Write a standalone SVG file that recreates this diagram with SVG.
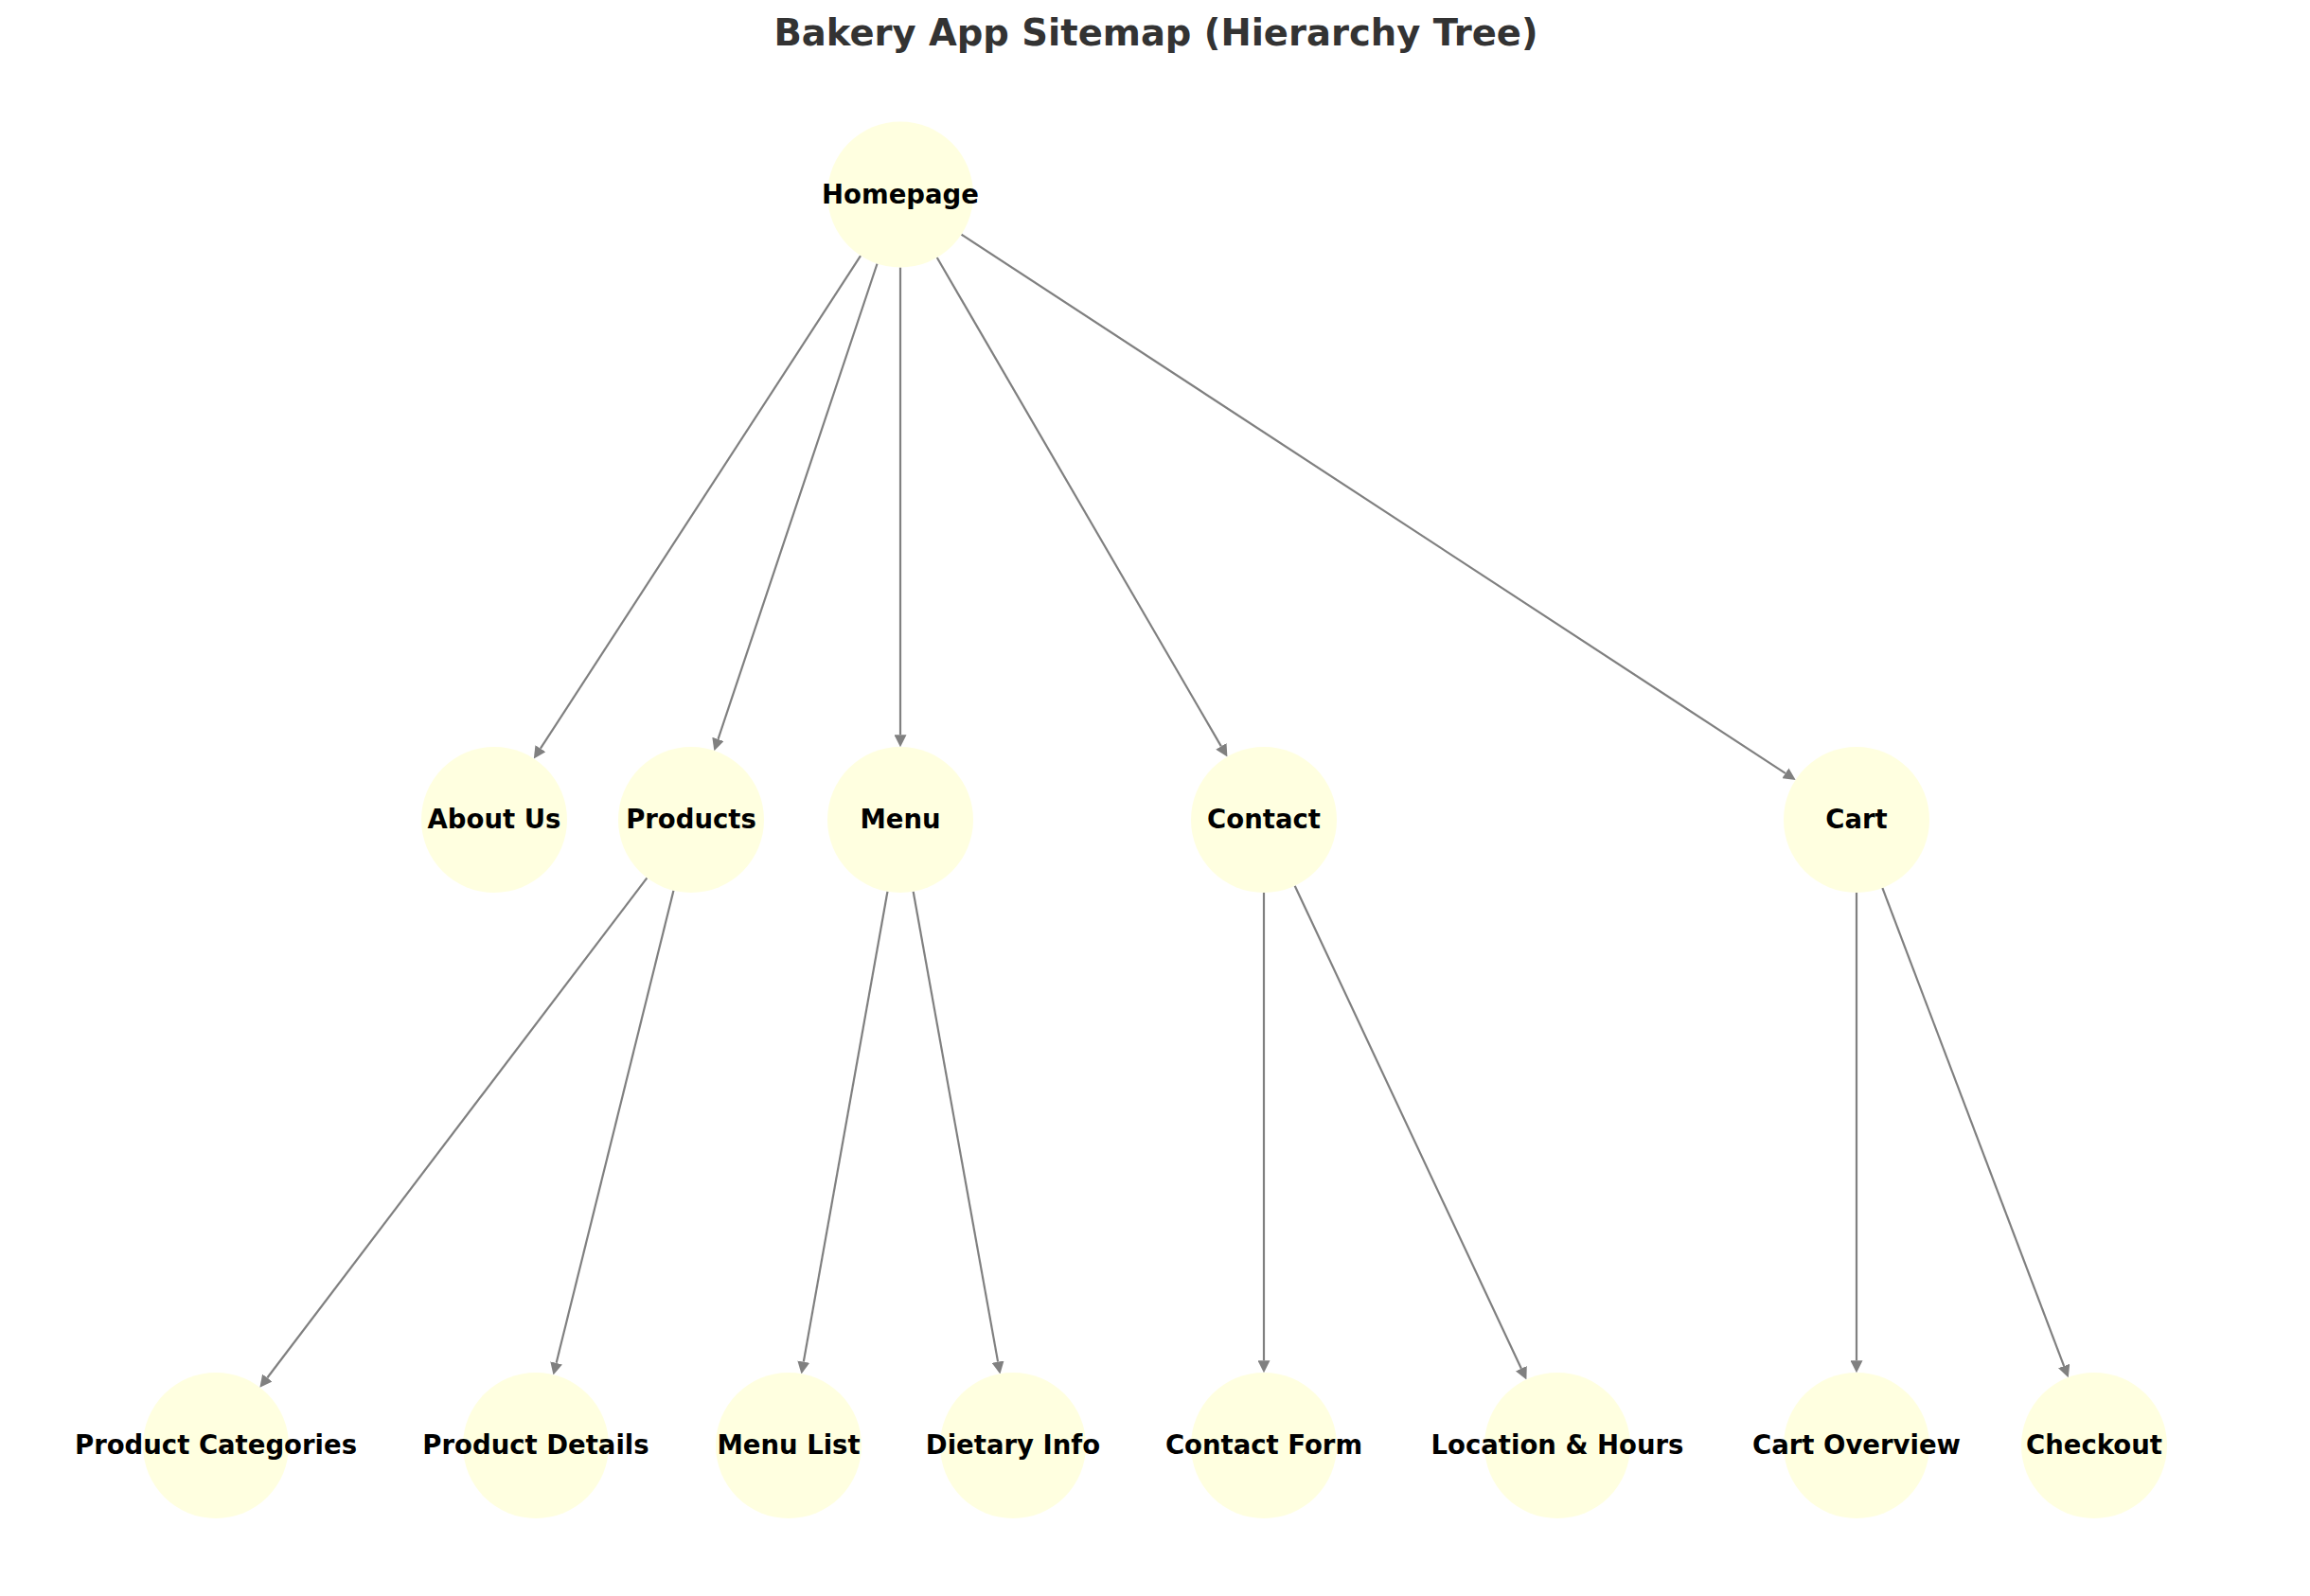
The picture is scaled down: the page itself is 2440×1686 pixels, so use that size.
<svg xmlns="http://www.w3.org/2000/svg" width="2440" height="1686" viewBox="0 0 2440 1686">
<defs>
<style>
.node circle { fill: #FFFFE0; }
.node text { font-family: "DejaVu Sans", "Liberation Sans", sans-serif; font-weight: bold; font-size: 27.5px; fill: #000000; text-anchor: middle; }
.title { font-family: "DejaVu Sans", "Liberation Sans", sans-serif; font-weight: bold; font-size: 38.5px; fill: #333333; text-anchor: middle; }
#edges line { stroke: #808080; stroke-width: 2.2; fill: none; marker-end: url(#arrow); }
</style>
<marker id="arrow" markerUnits="userSpaceOnUse" markerWidth="13" markerHeight="13" refX="0" refY="6.4" orient="auto" viewBox="0 0 12.8 12.8">
<path d="M0,0 L12.8,6.4 L0,12.8 Z" fill="#808080"/>
</marker>
</defs>
<rect width="2440" height="1686" fill="#FFFFFF"/>
<text class="title" x="1221" y="48">Bakery App Sitemap (Hierarchy Tree)</text>

<g id="edges">
<line x1="909.06" y1="270.07" x2="570.91" y2="790.70"/>
<line x1="926.57" y1="278.52" x2="758.49" y2="780.84"/>
<line x1="951" y1="282.5" x2="951" y2="776.2"/>
<line x1="989.70" y1="272.07" x2="1289.87" y2="788.36"/>
<line x1="1015.44" y1="247.64" x2="1885.85" y2="816.85"/>
<line x1="683.43" y1="927.32" x2="282.31" y2="1455.49"/>
<line x1="711.46" y1="940.74" x2="587.62" y2="1439.84"/>
<line x1="937.46" y1="941.81" x2="848.79" y2="1438.59"/>
<line x1="964.64" y1="941.78" x2="1054.09" y2="1438.62"/>
<line x1="1335" y1="943" x2="1335" y2="1437.2"/>
<line x1="1367.69" y1="935.71" x2="1606.88" y2="1445.70"/>
<line x1="1961" y1="943" x2="1961" y2="1437.2"/>
<line x1="1988.33" y1="937.98" x2="2180.13" y2="1443.05"/>
</g>

<g id="node-homepage" class="node"><circle cx="951" cy="205.5" r="77"/><text x="951" y="214.5">Homepage</text></g>
<g id="node-about-us" class="node"><circle cx="522" cy="866" r="77"/><text x="522" y="875">About Us</text></g>
<g id="node-products" class="node"><circle cx="730" cy="866" r="77"/><text x="730" y="875">Products</text></g>
<g id="node-menu" class="node"><circle cx="951" cy="866" r="77"/><text x="951" y="875">Menu</text></g>
<g id="node-contact" class="node"><circle cx="1335" cy="866" r="77"/><text x="1335" y="875">Contact</text></g>
<g id="node-cart" class="node"><circle cx="1961" cy="866" r="77"/><text x="1961" y="875">Cart</text></g>
<g id="node-product-categories" class="node"><circle cx="228" cy="1527" r="77"/><text x="228" y="1536">Product Categories</text></g>
<g id="node-product-details" class="node"><circle cx="566" cy="1527" r="77"/><text x="566" y="1536">Product Details</text></g>
<g id="node-menu-list" class="node"><circle cx="833" cy="1527" r="77"/><text x="833" y="1536">Menu List</text></g>
<g id="node-dietary-info" class="node"><circle cx="1070" cy="1527" r="77"/><text x="1070" y="1536">Dietary Info</text></g>
<g id="node-contact-form" class="node"><circle cx="1335" cy="1527" r="77"/><text x="1335" y="1536">Contact Form</text></g>
<g id="node-location-hours" class="node"><circle cx="1645" cy="1527" r="77"/><text x="1645" y="1536">Location &amp; Hours</text></g>
<g id="node-cart-overview" class="node"><circle cx="1961" cy="1527" r="77"/><text x="1961" y="1536">Cart Overview</text></g>
<g id="node-checkout" class="node"><circle cx="2212" cy="1527" r="77"/><text x="2212" y="1536">Checkout</text></g>
</svg>
